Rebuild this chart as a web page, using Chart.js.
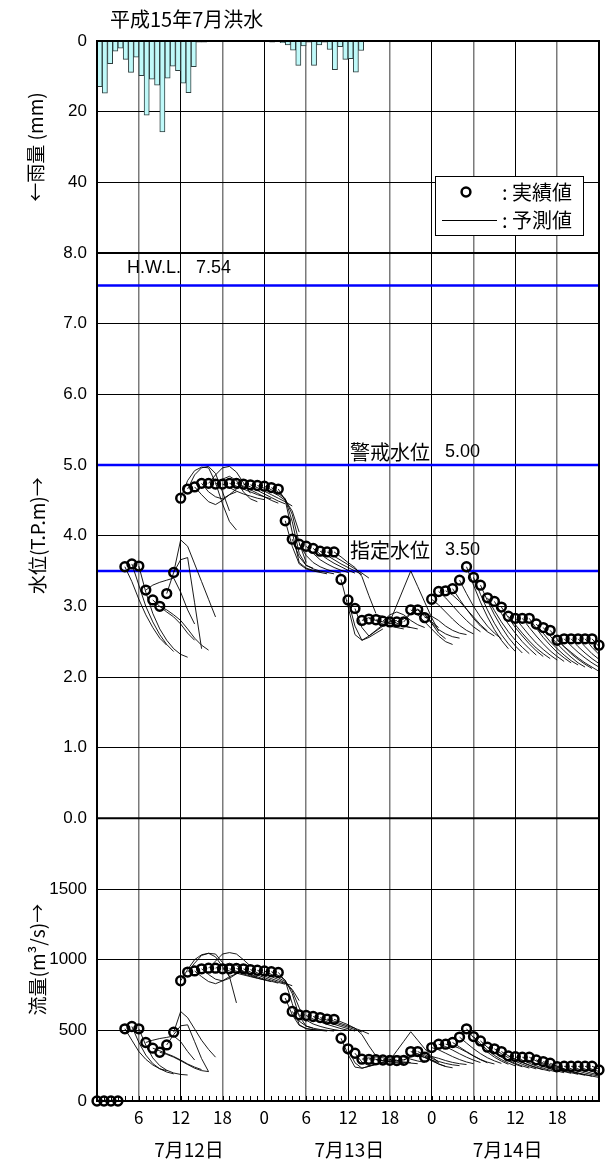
<!DOCTYPE html>
<html lang="ja">
<head>
<meta charset="utf-8">
<title>平成15年7月洪水</title>
<script src="https://cdn.jsdelivr.net/npm/chart.js@4.4.1/dist/chart.umd.min.js"></script>
<style>
  html, body { margin: 0; padding: 0; background: #fff; }
  #wrap { width: 616px; height: 1164px; }
</style>
</head>
<body>
<div id="wrap"><canvas id="floodChart" width="616" height="1164"></canvas></div>
<script>
// 7/12 0:00 からの経過時間 (h)
const hours = [
  0, 1, 2, 3, 4, 5, 6, 7, 8, 9, 10, 11, 12, 13, 14, 15, 16, 17, 18, 19, 20, 21, 22, 23,
  24, 25, 26, 27, 28, 29, 30, 31, 32, 33, 34, 35, 36, 37, 38, 39, 40, 41, 42, 43, 44, 45, 46, 47,
  48, 49, 50, 51, 52, 53, 54, 55, 56, 57, 58, 59, 60, 61, 62, 63, 64, 65, 66, 67, 68, 69, 70, 71, 72
];

// 時間雨量 (mm) - 雨量グラフは96コマ
const rainfall = [
  12.9, 14.8, 6.4, 2.9, 2.0, 5.2, 8.9, 4.6, 9.8, 21.0, 10.8, 12.5, 25.7, 10.5, 7.1, 8.4,
  11.9, 14.6, 7.3, 0.3, 0.3, 0, 0, 0, 0, 0, 0, 0, 0, 0, 0, 0,
  0, 0.3, 0.2, 0.5, 1.1, 2.6, 6.9, 1.4, 0.3, 6.9, 1.1, 0.3, 2.4, 8.1, 1.6, 5.2,
  5.0, 8.8, 2.7, 0, 0, 0, 0, 0, 0, 0, 0, 0, 0, 0, 0, 0,
  0, 0, 0, 0, 0, 0, 0, 0, 0, 0, 0, 0, 0, 0, 0, 0,
  0, 0, 0, 0, 0, 0, 0, 0, 0, 0, 0, 0, 0, 0, 0, 0
];

// 実績水位 (T.P.m)
const waterLevel = [
  null, null, null, null, 3.56, 3.60, 3.57, 3.23, 3.09, 3.00, 3.18, 3.48,
  4.53, 4.66, 4.69, 4.74, 4.74, 4.73, 4.73, 4.74, 4.74, 4.73, 4.72, 4.71, 4.70, 4.68, 4.66,
  4.21, 3.95, 3.88, 3.85, 3.82, 3.78, 3.77, 3.77,
  3.38, 3.09, 2.97, 2.80, 2.82, 2.81, 2.79, 2.78, 2.78, 2.78,
  2.95, 2.95, 2.84,
  3.10, 3.21, 3.22, 3.25, 3.37, 3.56, 3.41, 3.30, 3.12, 3.07, 2.99, 2.86, 2.83, 2.83, 2.83,
  2.75, 2.70, 2.66, 2.52, 2.54, 2.54, 2.54, 2.54, 2.54, 2.45
];

// 実績流量 (m3/s)
const discharge = [
  0, 0, 0, 0, 511, 527, 511, 414, 374, 345, 397, 487,
  851, 912, 920, 935, 940, 940, 935, 935, 938, 935, 930, 925, 920, 915, 910,
  728, 634, 610, 605, 598, 590, 580, 578,
  444, 369, 338, 296, 295, 292, 290, 288, 286, 288,
  350, 350, 310,
  378, 402, 402, 414, 452, 511, 456, 425, 381, 369, 350, 319, 314, 310, 310,
  291, 279, 267, 243, 246, 246, 246, 246, 246, 220
];

// 予測水位 [予測開始時刻, 1時間毎の値]
const levelForecasts = [
  [4, [3.56, 3.35, 3.10, 2.88, 2.70, 2.55, 2.45]],
  [5, [3.60, 3.30, 3.00, 2.78, 2.60, 2.46, 2.36]],
  [6, [3.57, 3.20, 2.90, 2.68, 2.52, 2.40, 2.32, 2.28]],
  [7, [3.23, 3.30, 3.34, 3.37, 3.40, 3.20, 2.95, 2.75]],
  [8, [3.09, 3.00, 2.92, 2.85, 2.75, 2.62, 2.52]],
  [9, [3.00, 2.95, 2.88, 2.80, 2.68, 2.55, 2.45, 2.38]],
  [10, [3.18, 3.48, 3.66, 3.69, 3.05, 2.40]],
  [11, [3.48, 3.94, 3.85, 3.60, 3.35, 3.10, 2.85]],
  [12, [4.53, 4.78, 4.92, 4.97, 4.96, 4.75, 4.45, 4.20, 4.08]],
  [13, [4.66, 4.86, 4.96, 4.98, 4.88, 4.62, 4.35]],
  [14, [4.69, 4.58, 4.48, 4.44, 4.50, 4.58, 4.62]],
  [15, [4.74, 4.62, 4.55, 4.52, 4.58, 4.66, 4.70]],
  [16, [4.74, 4.86, 4.96, 4.98, 4.90, 4.75, 4.60]],
  [17, [4.73, 4.80, 4.84, 4.78, 4.62, 4.52, 4.48]],
  [18, [4.73, 4.68, 4.63, 4.59, 4.56, 4.53, 4.51]],
  [19, [4.74, 4.70, 4.66, 4.62, 4.58, 4.55, 4.52]],
  [20, [4.74, 4.70, 4.65, 4.60, 4.55, 4.50, 4.46]],
  [21, [4.73, 4.69, 4.64, 4.59, 4.54, 4.49, 4.45]],
  [22, [4.72, 4.68, 4.63, 4.58, 4.53, 4.48, 4.42]],
  [23, [4.71, 4.67, 4.62, 4.57, 4.50, 4.35, 4.05]],
  [24, [4.70, 4.65, 4.60, 4.52, 4.30, 3.90, 3.62]],
  [25, [4.68, 4.62, 4.52, 4.20, 3.75, 3.58, 3.54]],
  [26, [4.66, 4.50, 4.05, 3.62, 3.54, 3.51, 3.49]],
  [27, [4.21, 3.85, 3.60, 3.53, 3.50, 3.48, 3.46]],
  [28, [3.95, 3.70, 3.58, 3.53, 3.50, 3.48, 3.46]],
  [29, [3.88, 3.72, 3.62, 3.56, 3.52, 3.49, 3.47]],
  [30, [3.85, 3.75, 3.66, 3.60, 3.55, 3.51, 3.48]],
  [31, [3.82, 3.74, 3.67, 3.61, 3.56, 3.51, 3.47]],
  [32, [3.78, 3.72, 3.66, 3.60, 3.55, 3.50, 3.45]],
  [33, [3.77, 3.71, 3.65, 3.59, 3.53, 3.47, 3.40]],
  [34, [3.77, 3.70, 3.62, 3.55, 3.42, 3.15, 2.90]],
  [35, [3.38, 3.00, 2.60, 2.52, 2.56, 2.62, 2.68]],
  [36, [3.09, 2.72, 2.52, 2.58, 2.65, 2.72, 2.76]],
  [37, [2.97, 2.70, 2.58, 2.66, 2.74, 2.78, 2.80]],
  [38, [2.80, 2.84, 2.80, 2.75, 2.72, 2.70, 2.68]],
  [39, [2.82, 2.88, 2.86, 2.81, 2.76, 2.72, 2.70]],
  [40, [2.81, 2.78, 2.76, 2.74, 2.72, 2.70, 2.68]],
  [41, [2.79, 2.88, 2.92, 2.88, 2.80, 2.74, 2.70]],
  [42, [2.78, 3.02, 3.26, 3.50, 3.28, 3.06, 2.84, 2.65]],
  [43, [2.78, 2.82, 2.90, 2.95, 2.88, 2.78, 2.70]],
  [44, [2.78, 2.90, 2.96, 2.90, 2.76, 2.62, 2.54]],
  [45, [2.95, 2.88, 2.78, 2.68, 2.58, 2.50, 2.46]],
  [46, [2.95, 2.86, 2.76, 2.67, 2.61, 2.57, 2.55]],
  [47, [2.84, 2.86, 2.80, 2.72, 2.66, 2.62, 2.60]],
  [48, [3.10, 3.02, 2.92, 2.82, 2.73, 2.66, 2.61]],
  [49, [3.21, 3.12, 3.01, 2.90, 2.80, 2.71, 2.64]],
  [50, [3.22, 3.16, 3.07, 2.96, 2.85, 2.74, 2.65]],
  [51, [3.25, 3.10, 2.96, 2.83, 2.72, 2.64, 2.58]],
  [52, [3.37, 3.18, 3.00, 2.85, 2.72, 2.62, 2.54]],
  [53, [3.56, 3.30, 3.06, 2.85, 2.67, 2.52, 2.40]],
  [54, [3.41, 3.17, 2.95, 2.76, 2.60, 2.47, 2.36]],
  [55, [3.30, 3.08, 2.88, 2.71, 2.56, 2.44, 2.34]],
  [56, [3.12, 2.94, 2.78, 2.64, 2.52, 2.42, 2.33]],
  [57, [3.07, 2.90, 2.75, 2.62, 2.50, 2.40, 2.31]],
  [58, [2.99, 2.84, 2.70, 2.58, 2.47, 2.37, 2.29]],
  [59, [2.86, 2.74, 2.62, 2.51, 2.41, 2.33, 2.26]],
  [60, [2.83, 2.71, 2.59, 2.48, 2.39, 2.31, 2.24]],
  [61, [2.83, 2.70, 2.58, 2.47, 2.37, 2.29, 2.22]],
  [62, [2.83, 2.69, 2.56, 2.45, 2.35, 2.27, 2.20]],
  [63, [2.75, 2.62, 2.50, 2.40, 2.31, 2.23, 2.17]],
  [64, [2.70, 2.58, 2.47, 2.37, 2.28, 2.20, 2.14]],
  [65, [2.66, 2.54, 2.43, 2.33, 2.25, 2.18, 2.12]],
  [66, [2.52, 2.43, 2.35, 2.27, 2.20, 2.14, 2.08]],
  [67, [2.54, 2.44, 2.35, 2.27, 2.20, 2.14]],
  [68, [2.54, 2.43, 2.34, 2.26, 2.19]],
  [69, [2.54, 2.43, 2.33, 2.25]],
  [70, [2.54, 2.42, 2.32]],
  [71, [2.54, 2.43]]
];

// 予測流量 [予測開始時刻, 1時間毎の値]
const flowForecasts = [
  [4, [511, 430, 350, 295, 255, 228, 215]],
  [5, [527, 415, 325, 265, 228, 205, 192]],
  [6, [511, 395, 305, 250, 218, 198, 188, 184]],
  [7, [414, 430, 442, 450, 460, 420, 350, 290]],
  [8, [374, 355, 335, 315, 290, 262, 240, 222]],
  [9, [345, 330, 310, 285, 258, 232, 215, 208]],
  [10, [397, 470, 532, 539, 420, 300, 208]],
  [11, [487, 633, 590, 510, 430, 365, 310]],
  [12, [851, 930, 1000, 1035, 1045, 1040, 980, 880, 694]],
  [13, [912, 975, 1030, 1045, 1020, 950, 880]],
  [14, [920, 880, 845, 830, 850, 880, 900]],
  [15, [935, 895, 862, 850, 868, 900, 920]],
  [16, [940, 990, 1040, 1050, 1040, 1000, 955]],
  [17, [940, 960, 975, 960, 915, 890, 875]],
  [18, [935, 920, 905, 892, 880, 868, 858]],
  [19, [935, 918, 900, 884, 870, 856, 844]],
  [20, [938, 917, 897, 879, 862, 847, 834]],
  [21, [935, 913, 892, 873, 855, 839, 826]],
  [22, [930, 907, 885, 866, 848, 832, 816]],
  [23, [925, 902, 880, 860, 835, 790, 710]],
  [24, [920, 896, 872, 845, 780, 660, 560]],
  [25, [915, 888, 855, 760, 600, 530, 515]],
  [26, [910, 850, 690, 540, 512, 505, 500]],
  [27, [728, 610, 535, 512, 505, 500, 495]],
  [28, [634, 565, 530, 515, 506, 500, 495]],
  [29, [610, 572, 545, 528, 515, 505, 497]],
  [30, [605, 580, 560, 542, 527, 512, 500]],
  [31, [598, 578, 560, 543, 527, 511, 495]],
  [32, [590, 572, 555, 538, 522, 505, 488]],
  [33, [580, 565, 548, 531, 514, 496, 475]],
  [34, [578, 560, 540, 515, 470, 390, 320]],
  [35, [444, 330, 240, 232, 245, 258, 270]],
  [36, [369, 270, 232, 246, 260, 272, 280]],
  [37, [338, 275, 250, 262, 275, 284, 290]],
  [38, [296, 305, 295, 284, 276, 270, 265]],
  [39, [295, 312, 306, 294, 284, 276, 272]],
  [40, [292, 286, 281, 276, 272, 268, 264]],
  [41, [290, 312, 322, 312, 296, 283, 273]],
  [42, [288, 355, 422, 490, 430, 370, 315, 275]],
  [43, [286, 292, 310, 322, 308, 290, 272]],
  [44, [288, 318, 334, 318, 290, 262, 245]],
  [45, [350, 332, 308, 284, 262, 244, 235]],
  [46, [350, 328, 302, 280, 266, 256, 250]],
  [47, [310, 315, 302, 286, 273, 264, 258]],
  [48, [378, 362, 338, 314, 293, 276, 264]],
  [49, [402, 385, 360, 334, 310, 289, 272]],
  [50, [402, 392, 372, 346, 318, 292, 270]],
  [51, [414, 382, 350, 320, 294, 275, 262]],
  [52, [452, 410, 370, 335, 306, 284, 266]],
  [53, [511, 448, 392, 346, 310, 282, 260]],
  [54, [456, 405, 360, 323, 293, 268, 248]],
  [55, [425, 380, 342, 310, 283, 260, 242]],
  [56, [381, 345, 314, 288, 266, 248, 233]],
  [57, [369, 335, 306, 281, 260, 242, 227]],
  [58, [350, 320, 294, 272, 252, 235, 221]],
  [59, [319, 295, 274, 255, 238, 223, 211]],
  [60, [314, 289, 267, 248, 232, 217, 204]],
  [61, [310, 285, 263, 244, 227, 212, 200]],
  [62, [310, 283, 260, 240, 223, 208, 196]],
  [63, [291, 268, 248, 230, 214, 200, 189]],
  [64, [279, 257, 238, 221, 206, 193, 182]],
  [65, [267, 246, 228, 212, 198, 186, 176]],
  [66, [243, 226, 211, 198, 186, 176, 167]],
  [67, [246, 228, 212, 198, 186, 176]],
  [68, [246, 227, 210, 196, 184]],
  [69, [246, 226, 209, 195]],
  [70, [246, 225, 208]],
  [71, [246, 226]]
];

// 基準水位
const refLevels = [7.54, 5.00, 3.50];
const refNames = ['H.W.L.', '警戒水位', '指定水位'];

const dayNames = ['7月12日', '7月13日', '7月14日'];

const LATIN = "'Liberation Sans', Arial, sans-serif";
const JP = "'Noto Sans CJK JP', sans-serif";

const toXY = (from, vals) => vals.map((v, i) => ({ x: from + i, y: v }));

const datasets = [];

// 雨量 (下向き棒)
datasets.push({
  type: 'bar',
  label: '雨量',
  data: rainfall,
  xAxisID: 'xR',
  yAxisID: 'yR',
  backgroundColor: '#bff9f9',
  borderColor: '#2f3f3f',
  borderWidth: { left: 1, right: 1, top: 0, bottom: 1 },
  borderSkipped: false,
  barThickness: 5.2,
  grouped: false,
  order: 5
});

// 基準水位線
refLevels.forEach((lv, i) => {
  datasets.push({
    type: 'line',
    label: refNames[i],
    data: [{ x: hours[0], y: lv }, { x: hours[hours.length - 1], y: lv }],
    xAxisID: 'x',
    yAxisID: 'yH',
    borderColor: '#0000ff',
    borderWidth: 2.5,
    pointRadius: 0,
    order: 4
  });
});

// 予測値 (細線)
function forecastSet(from, vals, axis) {
  return {
    type: 'line',
    label: '予測値',
    data: toXY(from, vals),
    xAxisID: 'x',
    yAxisID: axis,
    borderColor: '#000',
    borderWidth: 0.9,
    pointRadius: 0,
    order: 2
  };
}
levelForecasts.forEach(([from, vals]) => datasets.push(forecastSet(from, vals, 'yH')));
flowForecasts.forEach(([from, vals]) => datasets.push(forecastSet(from, vals, 'yQ')));

// 実績値 (白抜き丸)
function observedSet(values, axis) {
  return {
    type: 'line',
    label: '実績値',
    data: hours.map((h, i) => ({ x: h, y: values[i] })),
    xAxisID: 'x',
    yAxisID: axis,
    showLine: false,
    pointRadius: 4.4,
    pointBorderWidth: 2.5,
    pointBorderColor: '#000',
    pointBackgroundColor: 'rgba(255,255,255,0)',
    clip: 10,
    order: 0
  };
}
datasets.push(observedSet(waterLevel, 'yH'));
datasets.push(observedSet(discharge, 'yQ'));

// 枠・凡例・文字の描画
const overlay = {
  id: 'overlay',
  afterDatasetsDraw(chart) {
    const { ctx, chartArea: a, scales } = chart;
    const x = scales.x, yH = scales.yH;
    ctx.save();

    // 時間目盛 (下端)
    ctx.strokeStyle = '#000';
    ctx.lineWidth = 1;
    ctx.beginPath();
    for (let h = hours[1]; h < hours[hours.length - 1]; h++) {
      const px = Math.round(x.getPixelForValue(h)) + 0.5;
      ctx.moveTo(px, a.bottom);
      ctx.lineTo(px, a.bottom - 5);
    }
    ctx.stroke();

    // 基準水位の文字
    const labelAt = [4.3, 36.3, 36.3];
    const lift = [17, 13, 21];
    ctx.fillStyle = '#000';
    ctx.textBaseline = 'middle';
    ctx.textAlign = 'left';
    refLevels.forEach((lv, i) => {
      const py = yH.getPixelForValue(lv) - lift[i];
      let px = x.getPixelForValue(labelAt[i]);
      ctx.font = i === 0 ? `18px ${LATIN}` : `20px ${JP}`;
      ctx.fillText(refNames[i], px, py);
      px += ctx.measureText(refNames[i]).width + 15;
      ctx.font = `18px ${LATIN}`;
      ctx.fillText(lv.toFixed(2), px, py);
    });

    // 区切り線と外枠
    ctx.lineWidth = 2;
    ctx.beginPath();
    [yH.getPixelForValue(yH.max), yH.getPixelForValue(yH.min)].forEach(py => {
      ctx.moveTo(a.left, py);
      ctx.lineTo(a.right, py);
    });
    ctx.stroke();
    ctx.strokeRect(a.left, a.top, a.right - a.left, a.bottom - a.top);

    // 凡例
    ctx.fillStyle = '#fff';
    ctx.fillRect(435, 176, 148, 59);
    ctx.lineWidth = 1;
    ctx.strokeStyle = '#000';
    ctx.strokeRect(435.5, 176.5, 148, 59);
    ctx.lineWidth = 2.5;
    ctx.beginPath();
    ctx.arc(466, 192, 4.4, 0, Math.PI * 2);
    ctx.stroke();
    ctx.lineWidth = 1;
    ctx.beginPath();
    ctx.moveTo(442, 220.5);
    ctx.lineTo(497, 220.5);
    ctx.stroke();
    ctx.fillStyle = '#000';
    ctx.font = `20px ${JP}`;
    ctx.fillText(':', 502, 192);
    ctx.fillText('実績値', 512, 192);
    ctx.fillText(':', 502, 220);
    ctx.fillText('予測値', 512, 220);

    // 日付
    ctx.textAlign = 'center';
    ctx.font = `19px ${JP}`;
    const dayAt = [13.2, 36.2, 58.9];
    dayNames.forEach((d, i) => ctx.fillText(d, x.getPixelForValue(dayAt[i]), 1150));

    // 表題
    ctx.textAlign = 'left';
    ctx.font = `20px ${JP}`;
    ctx.fillText('平成15年7月洪水', 110, 19);

    ctx.restore();
  }
};

const yTicks = { color: '#000', padding: 10, font: { family: LATIN, size: 17 } };
const yGrid = { color: '#000', lineWidth: 1, drawTicks: false };
const yTitle = (text, pad) => ({
  display: true, text, color: '#000',
  font: { family: JP, size: 19 },
  padding: { top: pad, bottom: 0 }
});
const fixWidth = s => { s.width = 97; };

new Chart(document.getElementById('floodChart'), {
  type: 'line',
  data: { datasets },
  options: {
    responsive: false,
    animation: false,
    devicePixelRatio: 1,
    events: [],
    layout: { padding: { top: 41, right: 17, left: 0, bottom: 0 } },
    plugins: {
      legend: { display: false },
      tooltip: { enabled: false }
    },
    scales: {
      x: {
        type: 'linear',
        position: 'bottom',
        min: hours[0],
        max: hours[hours.length - 1],
        afterFit: s => { s.height = 63; },
        border: { display: false },
        grid: {
          drawTicks: false,
          color: c => (c.tick && c.tick.value % 12 === 0) ? '#000' : '#7a7a7a',
          lineWidth: c => (c.tick && c.tick.value % 12 === 0) ? 1 : 1.5
        },
        ticks: {
          stepSize: 6,
          autoSkip: false,
          maxRotation: 0,
          padding: 6,
          color: '#000',
          font: { family: JP, size: 17 },
          callback: v => (v === hours[0] || v === hours[hours.length - 1]) ? '' : String(v % 24)
        }
      },
      xR: {
        type: 'category',
        labels: rainfall.map((_, i) => String(i)),
        offset: true,
        display: false
      },
      yQ: {
        type: 'linear', position: 'left', stack: 'panels', stackWeight: 4,
        min: 0, max: 2000,
        afterFit: fixWidth,
        border: { display: false },
        grid: yGrid,
        ticks: Object.assign({ stepSize: 500, callback: v => v === 2000 ? '' : String(v) }, yTicks),
        title: yTitle('流量(m³/s)→', 26)
      },
      yH: {
        type: 'linear', position: 'left', stack: 'panels', stackWeight: 8,
        min: 0, max: 8,
        afterFit: fixWidth,
        border: { display: false },
        grid: yGrid,
        ticks: Object.assign({ stepSize: 1, callback: v => v.toFixed(1) }, yTicks),
        title: yTitle('水位(T.P.m)→', 26)
      },
      yR: {
        type: 'linear', position: 'left', stack: 'panels', stackWeight: 3,
        min: 0, max: 60, reverse: true,
        afterFit: fixWidth,
        border: { display: false },
        grid: yGrid,
        ticks: Object.assign({ stepSize: 20, callback: v => v === 60 ? '' : String(v) }, yTicks),
        title: yTitle('←雨量 (mm)', 24)
      }
    }
  },
  plugins: [overlay]
});
</script>
</body>
</html>
